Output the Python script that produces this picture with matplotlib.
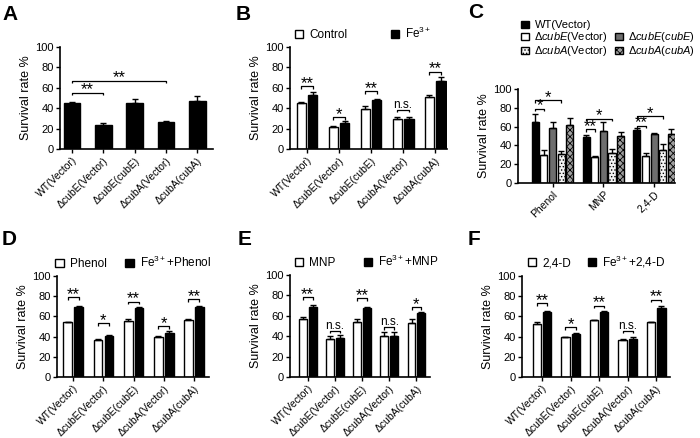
import matplotlib
matplotlib.use('Agg')
import matplotlib.pyplot as plt
import matplotlib.patches as mpatches
import numpy as np

plt.rcParams['font.family'] = ['Liberation Sans', 'DejaVu Sans']
plt.rcParams['mathtext.fontset'] = 'custom'
plt.rcParams['mathtext.rm'] = 'Liberation Sans'
plt.rcParams['mathtext.it'] = 'Liberation Sans:italic'
plt.rcParams['hatch.linewidth'] = 0.6

# ---------------- data ----------------
strains = ['WT(Vector)', 'ΔcubE(Vector)', 'ΔcubE(cubE)', 'ΔcubA(Vector)', 'ΔcubA(cubA)']

a_mean = [45, 23.6, 45.2, 26.5, 47.5]
a_err = [1.5, 2.0, 3.8, 1.0, 4.3]
a_sig_pairs = [(0, 1), (0, 3)]
a_sig_text = ['**', '**']
a_sig_y = [55, 67]

b_ctrl = [45, 21.3, 39.3, 29.5, 50.8]
b_ctrl_err = [1.0, 1.0, 2.7, 2.3, 2.6]
b_fe = [53, 25.6, 48.2, 29.5, 66.6]
b_fe_err = [2.7, 2.3, 1.3, 1.5, 4.4]
b_sig_text = ['**', '*', '**', 'n.s.', '**']
b_sig_y = [61.6, 31, 56.4, 38.4, 75.4]

c_groups = ['Phenol', 'MNP', '2,4-D']
c_wt = [64.6, 48.5, 56.4]
c_wt_err = [9.2, 3.0, 1.6]
c_cubE_v = [30, 28, 28.5]
c_cubE_v_err = [5.0, 1.0, 3.5]
c_cubE_c = [58, 55.7, 52]
c_cubE_c_err = [7.0, 8.9, 1.0]
c_cubA_v = [31, 32, 35]
c_cubA_v_err = [3.4, 3.7, 6.0]
c_cubA_c = [62, 50, 52.5]
c_cubA_c_err = [7.0, 4.0, 5.0]
c_sig_text = [['*', '*'], ['**', '*'], ['**', '*']]
c_sig_y = [[78.7, 88], [57, 68], [61, 71]]

d_phenol = [54.3, 37, 55.3, 39.7, 56.7]
d_phenol_err = [0.5, 0.5, 2.4, 0.6, 1.0]
d_fe_phenol = [69, 41, 68.7, 44, 69]
d_fe_phenol_err = [1.5, 1.0, 1.0, 1.3, 1.3]
d_sig_text = ['**', '*', '**', '*', '**']
d_sig_y = [78.8, 53, 74.5, 50.3, 76.8]

e_mnp = [56.4, 37.7, 54, 40, 53]
e_mnp_err = [2.6, 2.3, 2.7, 4.3, 3.4]
e_fe_mnp = [68.2, 38.7, 67.2, 40, 62.3]
e_fe_mnp_err = [2.3, 2.3, 1.0, 4.3, 1.7]
e_sig_text = ['**', 'n.s.', '**', 'n.s.', '*']
e_sig_y = [78, 45.2, 77, 49, 68.2]

f_d24 = [52.6, 39.5, 56, 36.8, 54]
f_d24_err = [1.7, 0.3, 0.6, 1.0, 0.3]
f_fe_d24 = [64, 42.4, 64, 37.8, 68]
f_fe_d24_err = [1.8, 1.0, 1.5, 1.7, 2.4]
f_sig_text = ['**', '*', '**', 'n.s.', '**']
f_sig_y = [73, 49.3, 70.7, 45.7, 76.3]

# ---------------- figure ----------------
W, H = 700, 438
fig = plt.figure(figsize=(W / 100, H / 100), dpi=100)


def px_axes(l, r, t, b):
    return fig.add_axes([l / W, 1 - b / H, (r - l) / W, (b - t) / H])


YTICK_FS = 8
XTICK_FS = 7.5
LEG_FS = 8.5


def style(ax, xlim):
    ax.set_ylim(0, 100)
    ax.set_yticks(range(0, 101, 20))
    ax.set_xlim(*xlim)
    for s in ['top', 'right']:
        ax.spines[s].set_visible(False)
    for s in ['left', 'bottom']:
        ax.spines[s].set_linewidth(1.2)
    ax.tick_params(axis='both', direction='out', length=3, width=1, pad=1.5)
    ax.tick_params(axis='y', labelsize=YTICK_FS)
    ax.set_ylabel('Survival rate %', fontsize=9, labelpad=2)


def bracket(ax, x1, x2, y, text, d=2.5):
    ax.plot([x1, x1, x2, x2], [y - d, y, y, y - d], color='black', lw=0.9,
            solid_capstyle='butt', clip_on=False)
    if text == 'n.s.':
        ax.text((x1 + x2) / 2, y + 2.0, text, ha='center', va='baseline', fontsize=8.5)
    else:
        ax.text((x1 + x2) / 2, y - 1.5, text, ha='center', va='baseline', fontsize=12)


def err_kw():
    return dict(ecolor='black', elinewidth=1, capsize=2.5, capthick=1)


def strain_ticks(ax, x):
    ax.set_xticks(x)
    ax.set_xticklabels(strains, rotation=45, ha='right', rotation_mode='anchor',
                       fontsize=XTICK_FS)


def pair_panel(ax, xlim, left_vals, left_err, right_vals, right_err,
               sig_text, sig_y, labels, leg_anchor, colsp, off=0.18, w=0.29):
    x = np.arange(len(strains))
    zeros = np.zeros(len(strains))
    ax.bar(x - off, left_vals, w, color='white', edgecolor='black', lw=1,
           yerr=[zeros, left_err], error_kw=err_kw(), label=labels[0])
    ax.bar(x + off, right_vals, w, color='black', edgecolor='black', lw=1,
           yerr=[zeros, right_err], error_kw=err_kw(), label=labels[1])
    for i in range(len(strains)):
        bracket(ax, x[i] - off, x[i] + off, sig_y[i], sig_text[i])
    style(ax, xlim)
    strain_ticks(ax, x)
    ax.legend(loc='lower left', bbox_to_anchor=leg_anchor, ncol=2, frameon=False,
              fontsize=LEG_FS, handlelength=0.7, handleheight=0.7,
              handletextpad=0.5, columnspacing=colsp, borderaxespad=0,
              borderpad=0)


# ----- A -----
axA = px_axes(60, 213, 47, 149)
xA = np.arange(len(strains))
axA.bar(xA, a_mean, 0.53, color='black', edgecolor='black',
        yerr=[np.zeros(len(a_mean)), a_err], error_kw=err_kw())
for (i, j), t, y in zip(a_sig_pairs, a_sig_text, a_sig_y):
    bracket(axA, xA[i], xA[j], y, t)
style(axA, (-0.38, 4.5))
strain_ticks(axA, xA)

# ----- B -----
axB = px_axes(290, 447, 47, 149)
pair_panel(axB, (-0.53, 4.37), b_ctrl, b_ctrl_err, b_fe, b_fe_err,
           b_sig_text, b_sig_y, ['Control', 'Fe$^{3+}$'], (0.03, 1.06), 3.7)

# ----- C -----
axC = px_axes(518, 675, 89, 183)
xC = np.arange(len(c_groups))
sw = 0.17
bw = 0.14
c_series = [
    (c_wt, c_wt_err, dict(color='black', edgecolor='black'), 'WT(Vector)'),
    (c_cubE_v, c_cubE_v_err, dict(color='white', edgecolor='black'), 'Δ$\\it{cubE}$(Vector)'),
    (c_cubE_c, c_cubE_c_err, dict(color='#6e6e6e', edgecolor='black'), 'Δ$\\it{cubE}$($\\it{cubE}$)'),
    (c_cubA_v, c_cubA_v_err, dict(color='#f4f4f4', edgecolor='black', hatch='.....'), 'Δ$\\it{cubA}$(Vector)'),
    (c_cubA_c, c_cubA_c_err, dict(color='#a0a0a0', edgecolor='black', hatch='xxxxx'), 'Δ$\\it{cubA}$($\\it{cubA}$)'),
]
c_handles = []
for k, (vals, errs, kw, lab) in enumerate(c_series):
    pos = xC + (k - 2) * sw
    bars = axC.bar(pos, vals, bw, lw=1, yerr=[np.zeros(len(vals)), errs],
                   error_kw=err_kw(), label=lab, **kw)
    c_handles.append(bars)
for g in range(len(c_groups)):
    bracket(axC, xC[g] - 2 * sw, xC[g] - sw, c_sig_y[g][0], c_sig_text[g][0])
    bracket(axC, xC[g] - 2 * sw, xC[g] + sw, c_sig_y[g][1], c_sig_text[g][1])
style(axC, (-0.68, 2.41))
axC.set_xticks(xC)
axC.set_xticklabels(c_groups, rotation=45, ha='right', rotation_mode='anchor',
                    fontsize=XTICK_FS)
blank = mpatches.Patch(color='none', label=' ')
order = [c_handles[0], c_handles[1], c_handles[3], blank, c_handles[2], c_handles[4]]
labels_c = [c_series[0][3], c_series[1][3], c_series[3][3], ' ', c_series[2][3], c_series[4][3]]
axC.legend(order, labels_c, loc='upper left', bbox_to_anchor=(0.02, 1.73), ncol=2,
           frameon=False, fontsize=8, handlelength=0.7, handleheight=0.7,
           handletextpad=0.5, columnspacing=0.6, labelspacing=0.0,
           borderaxespad=0, borderpad=0)

# ----- D -----
axD = px_axes(57, 209, 276, 377)
pair_panel(axD, (-0.54, 4.5), d_phenol, d_phenol_err, d_fe_phenol, d_fe_phenol_err,
           d_sig_text, d_sig_y, ['Phenol', 'Fe$^{3+}$+Phenol'], (-0.01, 1.06), 1.6)

# ----- E -----
axE = px_axes(290, 430, 275, 377)
pair_panel(axE, (-0.65, 4.5), e_mnp, e_mnp_err, e_fe_mnp, e_fe_mnp_err,
           e_sig_text, e_sig_y, ['MNP', 'Fe$^{3+}$+MNP'], (0.036, 1.06), 2.4)

# ----- F -----
axF = px_axes(522, 670, 276, 377)
pair_panel(axF, (-0.7, 4.48), f_d24, f_d24_err, f_fe_d24, f_fe_d24_err,
           f_sig_text, f_sig_y, ['2,4-D', 'Fe$^{3+}$+2,4-D'], (0.04, 1.06), 1.45)

# ----- panel letters -----
for lab, (x, y) in zip('ABCDEF', [(2, 20), (236, 20), (468, 18), (2, 245), (238, 245), (468, 245)]):
    fig.text(x / W, 1 - y / H, lab, fontsize=15, fontweight='bold', ha='left', va='baseline')

fig.savefig('out.png', dpi=100)
